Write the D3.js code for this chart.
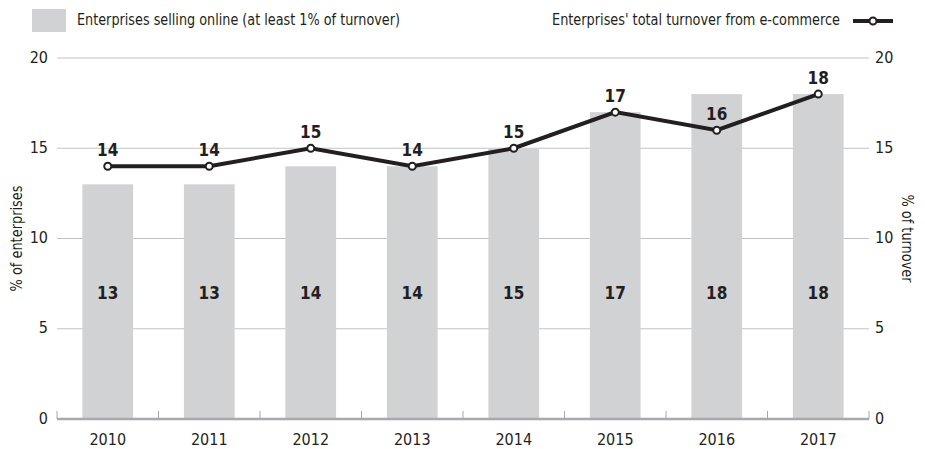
<!DOCTYPE html>
<html><head><meta charset="utf-8">
<script src="https://cdn.jsdelivr.net/npm/d3@7"></script>
<style>
body{margin:0;background:#fff;}
text{font-family:"Liberation Sans Narrow","Arial Narrow","DejaVu Sans Condensed",sans-serif;fill:#231f20;}
</style></head><body>
<svg id="c" width="925" height="449"></svg>
<script>
const years = ["2010","2011","2012","2013","2014","2015","2016","2017"];
const sellingOnline = [13,13,14,14,15,17,18,18];
const turnoverShare = [14,14,15,14,15,17,16,18];
const yTicks = [0,5,10,15,20];
const barLegend = "Enterprises selling online (at least 1% of turnover)";
const lineLegend = "Enterprises' total turnover from e-commerce";
const leftTitle = "% of enterprises";
const rightTitle = "% of turnover";

const svg = d3.select("#c");
const L = 57, R = 869, T = 58, B = 419;
const x = d3.scaleBand().domain(years).range([L, R]).paddingInner(0.5).paddingOuter(0.25);
const y = d3.scaleLinear().domain([0,20]).range([B, T]);
const y2 = d3.scaleLinear().domain([0,20]).range([B, T]);

// gridlines
svg.append("g").selectAll("line").data(yTicks.filter(d=>d>0)).join("line")
  .attr("x1", L).attr("x2", R).attr("y1", d=>y(d)).attr("y2", d=>y(d))
  .attr("stroke", "#c2c3c5").attr("stroke-width", 1);

// bars
svg.append("g").selectAll("rect").data(years).join("rect")
  .attr("x", d=>x(d)).attr("width", x.bandwidth())
  .attr("y", (d,i)=>y(sellingOnline[i])).attr("height", (d,i)=>B - y(sellingOnline[i]))
  .attr("fill", "#d1d2d4");

// bar labels
svg.append("g").selectAll("text").data(years).join("text")
  .attr("x", d=>x(d)+x.bandwidth()/2).attr("y", y(7)+1)
  .attr("text-anchor","middle").attr("dominant-baseline","middle")
  .attr("font-size", 17).attr("font-weight","bold")
  .text((d,i)=>sellingOnline[i]);

// bottom axis
svg.append("line").attr("x1", L).attr("x2", R).attr("y1", B).attr("y2", B)
  .attr("stroke", "#a7a9ac").attr("stroke-width", 2.5);
const bounds = years.map(d=>x(d) - x.step()*x.paddingInner()/2).concat([R]);
svg.append("g").selectAll("line").data(bounds).join("line")
  .attr("x1", d=>d).attr("x2", d=>d).attr("y1", B).attr("y2", B-8)
  .attr("stroke", "#a7a9ac").attr("stroke-width", 1);
svg.append("g").selectAll("text").data(years).join("text")
  .attr("x", d=>x(d)+x.bandwidth()/2).attr("y", 440)
  .attr("text-anchor","middle").attr("dominant-baseline","middle")
  .attr("font-size", 16).text(d=>d);

// left axis labels
svg.append("g").selectAll("text").data(yTicks).join("text")
  .attr("x", 48).attr("y", d=>y(d)).attr("text-anchor","end").attr("dominant-baseline","middle")
  .attr("font-size", 16).text(d=>d);
// right axis labels
svg.append("g").selectAll("text").data(yTicks).join("text")
  .attr("x", 875).attr("y", d=>y2(d)).attr("text-anchor","start").attr("dominant-baseline","middle")
  .attr("font-size", 16).text(d=>d);

// axis titles
svg.append("text").attr("transform", `translate(17,${(T+B)/2}) rotate(-90)`)
  .attr("text-anchor","middle").attr("dominant-baseline","middle").attr("font-size",16)
  .attr("textLength",106).attr("lengthAdjust","spacingAndGlyphs").text(leftTitle);
svg.append("text").attr("transform", `translate(906,${(T+B)/2}) rotate(90)`)
  .attr("text-anchor","middle").attr("dominant-baseline","middle").attr("font-size",16)
  .attr("textLength",88).attr("lengthAdjust","spacingAndGlyphs").text(rightTitle);

// line
const line = d3.line().x((d,i)=>x(years[i])+x.bandwidth()/2).y(d=>y2(d));
svg.append("path").datum(turnoverShare).attr("d", line)
  .attr("fill","none").attr("stroke","#231f20").attr("stroke-width",4);
svg.append("g").selectAll("circle").data(turnoverShare).join("circle")
  .attr("cx", (d,i)=>x(years[i])+x.bandwidth()/2).attr("cy", d=>y2(d)).attr("r", 3.5)
  .attr("fill","#fff").attr("stroke","#231f20").attr("stroke-width",2);
svg.append("g").selectAll("text").data(turnoverShare).join("text")
  .attr("x", (d,i)=>x(years[i])+x.bandwidth()/2).attr("y", d=>y2(d)-15)
  .attr("text-anchor","middle").attr("dominant-baseline","middle")
  .attr("font-size", 17).attr("font-weight","bold").text(d=>d);

// legend
svg.append("rect").attr("x",32).attr("y",9).attr("width",34).attr("height",23).attr("fill","#d1d2d4");
svg.append("text").attr("x",77).attr("y",20).attr("dominant-baseline","middle").attr("font-size",16)
  .attr("textLength",323).attr("lengthAdjust","spacingAndGlyphs").text(barLegend);
svg.append("text").attr("x",840).attr("y",20).attr("text-anchor","end").attr("dominant-baseline","middle").attr("font-size",16)
  .attr("textLength",288).attr("lengthAdjust","spacingAndGlyphs").text(lineLegend);
svg.append("line").attr("x1",853).attr("x2",893).attr("y1",21).attr("y2",21).attr("stroke","#231f20").attr("stroke-width",4);
svg.append("circle").attr("cx",873).attr("cy",21).attr("r",3.5).attr("fill","#fff").attr("stroke","#231f20").attr("stroke-width",2);
</script></body></html>
